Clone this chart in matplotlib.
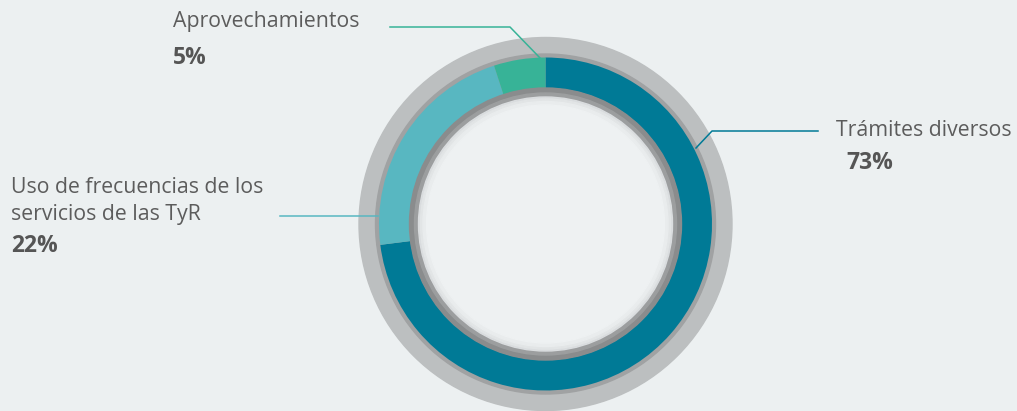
import matplotlib
matplotlib.use("Agg")
import matplotlib.pyplot as plt
from matplotlib.patches import Circle

categories = ["Trámites diversos", "Uso de frecuencias de los\nservicios de las TyR", "Aprovechamientos"]
values = [73, 22, 5]
pct_labels = ["73%", "22%", "5%"]
colors = ["#007a96", "#58b7c1", "#37b397"]

W, H = 1017, 411
fig = plt.figure(figsize=(W / 100, H / 100), dpi=100)
fig.patch.set_facecolor("#ecf0f1")
ax = fig.add_axes([0, 0, 1, 1])

def Y(y):
    return H - y

cx, cy = 545.5, Y(224)

# outer light gray ring
ax.add_patch(Circle((cx, cy), 186.5, color="#bcbfc0", zorder=1))
ax.add_patch(Circle((cx, cy), 170, color="#a0a2a3", zorder=1.1))

ax.pie(values, colors=colors, startangle=90, counterclock=False,
       center=(cx, cy), radius=166.5, frame=True,
       wedgeprops=dict(width=30.5, linewidth=0, zorder=2))
ax.set_xlim(0, W)
ax.set_ylim(0, H)
ax.set_aspect("equal")
ax.axis("off")

# inner gray ring
ax.add_patch(Circle((cx, cy), 136, color="#8a8c8d", zorder=3))
ax.add_patch(Circle((cx, cy), 131, color="#9c9e9f", zorder=3.1))
# soft shadow inside
for i, (r, c) in enumerate([(127, "#dadddf"), (125, "#e2e5e6"), (122.5, "#e9eced"), (119, "#eef1f2")]):
    ax.add_patch(Circle((cx, cy), r, color=c, zorder=3.2 + i * 0.01))

txt = "#5c5c5c"
txtb = "#555555"
font = "Open Sans"
fs = 15.3
fsp = 16.5

# leader lines
ax.plot([390, 510, 541], [Y(27), Y(27), Y(59)], color="#37b397", lw=1.1, zorder=5)
ax.plot([818, 712, 696], [Y(131), Y(131), Y(148)], color="#007a96", lw=1.1, zorder=5)
ax.plot([280, 378], [Y(216), Y(216)], color="#58b7c1", lw=1.1, zorder=5)

# labels
ax.text(173, Y(22), categories[2], fontsize=fs, color=txt, family=font, va="center", ha="left")
ax.text(173, Y(58), pct_labels[2], fontsize=fsp, color=txtb, family=font, va="center", ha="left", weight="bold")
ax.text(836, Y(131), categories[0], fontsize=fs, color=txt, family=font, va="center", ha="left")
ax.text(846, Y(163), pct_labels[0], fontsize=fsp, color=txtb, family=font, va="center", ha="left", weight="bold")
ax.text(11, Y(201), categories[1], fontsize=fs, color=txt, family=font, va="center", ha="left", linespacing=1.32)
ax.text(11, Y(246), pct_labels[1], fontsize=fsp, color=txtb, family=font, va="center", ha="left", weight="bold")

fig.savefig("out.png", dpi=100, facecolor=fig.get_facecolor())
